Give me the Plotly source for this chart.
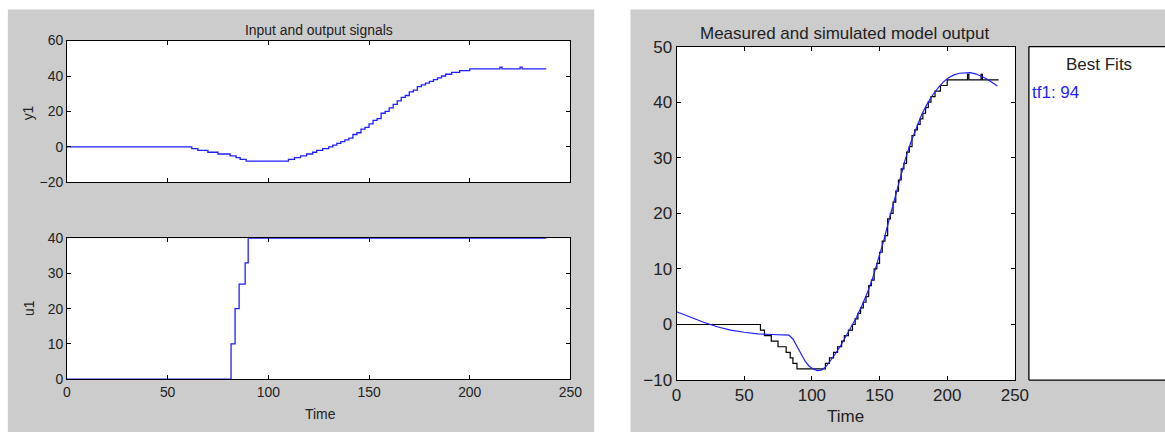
import plotly.graph_objects as go

W, H = 1165, 432

# ---- data ----
# measured output y1 (staircase breakpoints)
y1_t = [0, 62, 65, 70, 75, 81, 84, 86, 89, 110, 113, 116, 119, 122, 124, 127, 130, 132, 134, 136,
        138, 140, 142, 144, 146, 148, 150, 152, 154, 156, 158, 160, 162, 164, 166, 168, 170, 172,
        174, 176, 178, 180, 182, 184, 186, 188, 191, 195, 200, 215, 216, 225, 226, 238]
y1_v = [0, -1, -2, -3, -4, -5, -6, -7, -8, -7, -6, -5, -4, -3, -2, -1, 0, 1, 2, 3,
        4, 5, 7, 8, 10, 11, 13, 15, 16, 19, 20, 22, 24, 26, 28, 29, 31, 32,
        34, 35, 36, 37, 38, 39, 40, 41, 42, 43, 44, 45, 44, 45, 44, 44]

# input u1 (staircase breakpoints)
u1_t = [0, 81.5, 83.5, 85.5, 88.5, 90, 238]
u1_v = [0, 10, 20, 27, 33, 40, 40]

# simulated model output tf1
sim_t = [0, 10, 20, 30, 40, 50, 60, 70, 80, 83, 86, 89, 92, 95, 98, 101, 104, 107, 110, 113, 117,
         121, 125, 129, 133, 137, 141, 145, 149, 153, 157, 161, 165, 169, 173, 177, 181, 185, 189,
         193, 197, 201, 205, 209, 213, 217, 221, 225, 229, 233, 237]
sim_v = [2.3, 1.3, 0.4, -0.4, -1.0, -1.4, -1.7, -1.8, -1.8, -1.9, -2.6, -3.9, -5.4, -6.6, -7.5,
         -8.0, -8.3, -8.2, -7.7, -6.8, -5.4, -3.9, -2.2, -0.5, 1.3, 3.4, 5.7, 8.4, 11.5, 15.0,
         18.8, 22.6, 26.3, 29.7, 32.7, 35.4, 37.7, 39.6, 41.2, 42.5, 43.6, 44.4, 44.9, 45.2,
         45.3, 45.3, 45.1, 44.7, 44.2, 43.6, 42.9]

x_ticks = [0, 50, 100, 150, 200, 250]
fit_label = "tf1: 94"

BLUE = "#1f1fff"
GRAY = "#cccccc"
TXT = "#222222"
FONT = "Liberation Sans, Arial, sans-serif"

# observed mapping of the page into the returned picture (picture = a*page + b)
AX, BX = 0.9827, 5.14
AY, BY = 0.9574, 8.38
FS_L = 13.5 / 0.97
FS_R = 16.5 / 0.97


def px(s):
    """picture x pixel -> paper fraction"""
    return ((s - BX) / AX) / W


def py(s):
    """picture y pixel (from top) -> paper fraction"""
    return 1 - ((s - BY) / AY) / H


fig = go.Figure()
fig.add_trace(go.Scatter(x=y1_t, y=y1_v, mode="lines", line=dict(color=BLUE, width=1.3, shape="hv"),
                         xaxis="x", yaxis="y", showlegend=False))
fig.add_trace(go.Scatter(x=u1_t, y=u1_v, mode="lines", line=dict(color=BLUE, width=1.3, shape="hv"),
                         xaxis="x2", yaxis="y2", showlegend=False))
fig.add_trace(go.Scatter(x=y1_t, y=y1_v, mode="lines", line=dict(color="black", width=1.2, shape="hv"),
                         xaxis="x3", yaxis="y3", showlegend=False))
fig.add_trace(go.Scatter(x=sim_t, y=sim_v, mode="lines", line=dict(color=BLUE, width=1.2),
                         xaxis="x3", yaxis="y3", showlegend=False))

ax_common = dict(showline=True, linecolor="black", linewidth=1, mirror="ticks", ticks="inside",
                 ticklen=4, tickcolor="black", showgrid=False, zeroline=False)

fig.update_layout(
    width=W, height=H, margin=dict(l=0, r=0, t=0, b=0),
    paper_bgcolor="white", plot_bgcolor="white",
    xaxis=dict(ax_common, domain=[px(67), px(570)], anchor="y", range=[0, 250], tickvals=x_ticks,
               showticklabels=False, tickfont=dict(family=FONT, color=TXT, size=FS_L)),
    yaxis=dict(ax_common, domain=[py(182), py(40)], anchor="x", range=[-20, 60], dtick=20,
               tickfont=dict(family=FONT, color=TXT, size=FS_L)),
    xaxis2=dict(ax_common, domain=[px(67), px(570)], anchor="y2", range=[0, 250], tickvals=x_ticks,
                tickfont=dict(family=FONT, color=TXT, size=FS_L)),
    yaxis2=dict(ax_common, domain=[py(379), py(238)], anchor="x2", range=[0, 40], dtick=10,
                tickfont=dict(family=FONT, color=TXT, size=FS_L)),
    xaxis3=dict(ax_common, domain=[px(676), px(1014)], anchor="y3", range=[0, 250], tickvals=x_ticks,
                tickfont=dict(family=FONT, color=TXT, size=FS_R)),
    yaxis3=dict(ax_common, domain=[py(380), py(46)], anchor="x3", range=[-10, 50], dtick=10,
                tickfont=dict(family=FONT, color=TXT, size=FS_R)),
)

edge = dict(color="black", width=1.3)
XR = px(1200)   # beyond right edge of picture
YB = py(450)    # beyond bottom edge of picture
shapes = [
    dict(type="rect", xref="paper", yref="paper", x0=px(-20), x1=XR, y0=py(9), y1=py(-20),
         fillcolor="white", line=dict(width=0), layer="below"),
    dict(type="rect", xref="paper", yref="paper", x0=px(-20), x1=px(8), y0=YB, y1=py(-20),
         fillcolor="white", line=dict(width=0), layer="below"),
    dict(type="rect", xref="paper", yref="paper", x0=px(8), x1=px(594), y0=YB, y1=py(9),
         fillcolor=GRAY, line=dict(width=0), layer="below"),
    dict(type="rect", xref="paper", yref="paper", x0=px(594), x1=px(630), y0=YB, y1=py(9),
         fillcolor="white", line=dict(width=0), layer="below"),
    dict(type="rect", xref="paper", yref="paper", x0=px(630), x1=XR, y0=YB, y1=py(9),
         fillcolor=GRAY, line=dict(width=0), layer="below"),
    dict(type="rect", xref="paper", yref="paper", x0=px(67), x1=px(570), y0=py(182), y1=py(40),
         fillcolor="white", line=dict(width=0), layer="below"),
    dict(type="rect", xref="paper", yref="paper", x0=px(67), x1=px(570), y0=py(379), y1=py(238),
         fillcolor="white", line=dict(width=0), layer="below"),
    dict(type="rect", xref="paper", yref="paper", x0=px(676), x1=px(1014), y0=py(380), y1=py(46),
         fillcolor="white", line=dict(width=0), layer="below"),
    # "Best Fits" panel (runs off the right edge)
    dict(type="rect", xref="paper", yref="paper", x0=px(1028), x1=XR, y0=py(380), y1=py(46),
         fillcolor="white", line=dict(width=0), layer="below"),
    dict(type="line", xref="paper", yref="paper", x0=px(1028), x1=px(1028), y0=py(380), y1=py(46),
         line=edge),
    dict(type="line", xref="paper", yref="paper", x0=px(1028), x1=XR, y0=py(46), y1=py(46), line=edge),
    dict(type="line", xref="paper", yref="paper", x0=px(1028), x1=XR, y0=py(380), y1=py(380), line=edge),
]
fig.update_layout(shapes=shapes)


def ann(text, x, y, size, color=TXT, angle=0, xanchor="center", yanchor="middle"):
    fig.add_annotation(text=text, x=px(x), y=py(y), xref="paper", yref="paper", showarrow=False,
                       xanchor=xanchor, yanchor=yanchor, textangle=angle,
                       font=dict(family=FONT, size=size, color=color))


ann("Input and output signals", 318.5, 29.5, FS_L)
ann("y1", 29, 112, FS_L, angle=-90)
ann("u1", 29, 308, FS_L, angle=-90)
ann("Time", 320, 414, FS_L)
ann("Measured and simulated model output", 844, 33, FS_R)
ann("Time", 845, 416, FS_R)
ann("Best Fits", 1098, 64, FS_R)
ann(fit_label, 1029, 92, FS_R, color=BLUE, xanchor="left")

fig.write_html("out.html", config=dict(displayModeBar=False, staticPlot=True),
               post_script="document.body.style.margin='0';")
